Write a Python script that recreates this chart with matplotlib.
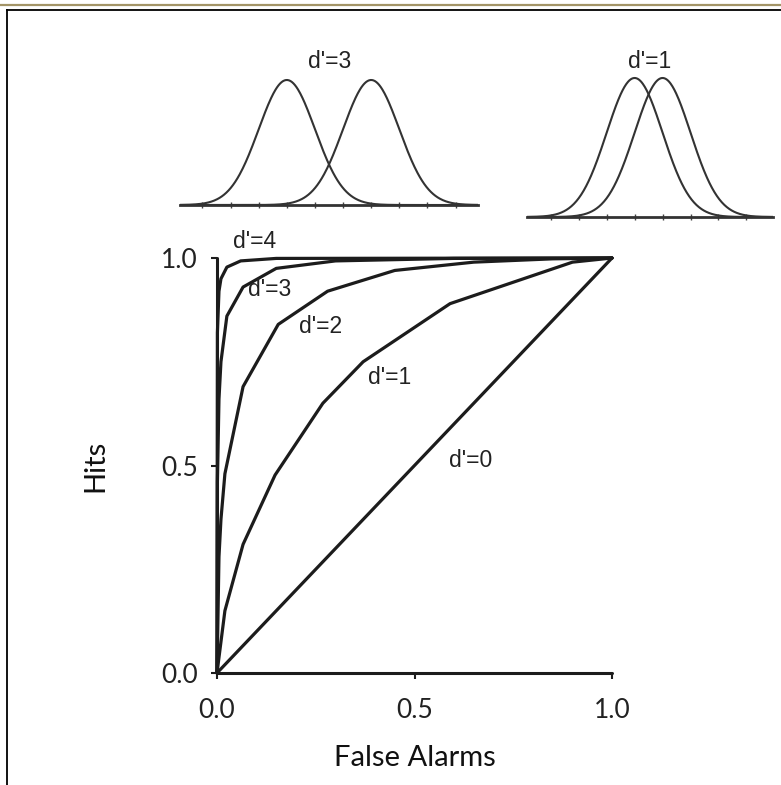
import numpy as np
import matplotlib
matplotlib.use("Agg")
import matplotlib.pyplot as plt
from matplotlib.lines import Line2D

# ROC curves: (false alarm rate, hit rate)
fa_d0 = [0.0, 1.0]
hit_d0 = [0.0, 1.0]

fa_d1 = [0.0, 0.02, 0.066, 0.147, 0.268, 0.37, 0.59, 0.90, 1.0]
hit_d1 = [0.0, 0.15, 0.31, 0.477, 0.65, 0.75, 0.89, 0.99, 1.0]

fa_d2 = [0.0, 0.005, 0.01, 0.02, 0.066, 0.155, 0.28, 0.45, 0.65, 0.85, 1.0]
hit_d2 = [0.0, 0.28, 0.37, 0.48, 0.69, 0.84, 0.92, 0.97, 0.99, 0.998, 1.0]

fa_d3 = [0.0, 0.001, 0.005, 0.01, 0.025, 0.066, 0.15, 0.3, 0.6, 1.0]
hit_d3 = [0.0, 0.46, 0.66, 0.75, 0.86, 0.93, 0.975, 0.993, 0.999, 1.0]

fa_d4 = [0.0, 0.001, 0.005, 0.01, 0.025, 0.06, 0.15, 1.0]
hit_d4 = [0.0, 0.82, 0.92, 0.95, 0.978, 0.993, 0.999, 1.0]

curves = [(fa_d0, hit_d0), (fa_d1, hit_d1), (fa_d2, hit_d2),
          (fa_d3, hit_d3), (fa_d4, hit_d4)]

curve_labels = ["d'=0", "d'=1", "d'=2", "d'=3", "d'=4"]
label_pos = [(0.641, 0.513), (0.438, 0.711), (0.261, 0.836),
             (0.134, 0.923), (0.096, 1.039)]

ticks = [0.0, 0.5, 1.0]
tick_labels = ["0.0", "0.5", "1.0"]

# noise / signal distributions for the two insets
means_d3 = [0.0, 3.0]
means_d1 = [0.0, 1.0]

W, H = 781, 785
fig = plt.figure(figsize=(W / 100, H / 100), dpi=100)
fig.patch.set_facecolor("white")


def px_box(x0, y0, x1, y1):
    # pixel box (top-left origin) -> figure rect
    return [x0 / W, 1 - y1 / H, (x1 - x0) / W, (y1 - y0) / H]


# frame lines
fig.add_artist(Line2D([0, 1], [1 - 4.5 / H, 1 - 4.5 / H], color="#a39467", lw=1.6))
fig.add_artist(Line2D([7 / W, 1], [1 - 9.5 / H, 1 - 9.5 / H], color="black", lw=1.3))
fig.add_artist(Line2D([7 / W, 7 / W], [0, 1 - 9.5 / H], color="black", lw=1.3))

# main ROC plot
ax = fig.add_axes(px_box(217, 258, 612, 673))
for fa, hit in curves:
    ax.plot(fa, hit, color="#1c1c1c", lw=2.3, solid_capstyle="round",
            solid_joinstyle="round", clip_on=False)
ax.set_xlim(0, 1)
ax.set_ylim(0, 1)
for s in ["top", "right"]:
    ax.spines[s].set_visible(False)
for s in ["left", "bottom"]:
    ax.spines[s].set_linewidth(2.2)
    ax.spines[s].set_color("#1c1c1c")
    ax.spines[s].set_capstyle("round")
ax.set_xticks(ticks)
ax.set_yticks(ticks)
ax.set_xticklabels(tick_labels, fontfamily="Lato", fontsize=19, color="#222")
ax.set_yticklabels(tick_labels, fontfamily="Lato", fontsize=19, color="#222")
ax.tick_params(length=4, width=1.5, color="#1c1c1c")
ax.tick_params(axis="x", pad=14)
ax.tick_params(axis="y", pad=10)
ax.set_xlabel("False Alarms", fontfamily="Lato", fontsize=21, color="#111", labelpad=16)
ax.set_ylabel("Hits", fontfamily="Lato", fontsize=21, color="#111", labelpad=38)
ax.patch.set_alpha(0)

for lab, (x, y) in zip(curve_labels, label_pos):
    ax.text(x, y, lab, fontsize=16.5, fontfamily="Liberation Sans", color="#222",
            ha="center", va="center", clip_on=False)


def gauss(x, m):
    return np.exp(-0.5 * (x - m) ** 2) / np.sqrt(2 * np.pi)


# inset d'=3
ax1 = fig.add_axes(px_box(180, 75, 478, 205))
xs = np.linspace(-3.8, 6.8, 400)
for m in means_d3:
    ax1.plot(xs, gauss(xs, m), color="#333", lw=1.5)
ax1.set_xlim(-3.8, 6.8)
ax1.set_ylim(0, 0.3989 * 130 / 125)
ax1.set_xticks(np.arange(-3, 7))

# inset d'=1
ax2 = fig.add_axes(px_box(527, 73, 773, 217))
xs2 = np.linspace(-3.85, 4.95, 400)
for m in means_d1:
    ax2.plot(xs2, gauss(xs2, m), color="#333", lw=1.5)
ax2.set_xlim(-3.85, 4.95)
ax2.set_ylim(0, 0.3989 * 144 / 139)
ax2.set_xticks(np.arange(-3, 5))

for a in (ax1, ax2):
    for s in ["top", "right", "left"]:
        a.spines[s].set_visible(False)
    a.spines["bottom"].set_linewidth(2.0)
    a.spines["bottom"].set_color("#333")
    a.set_yticks([])
    a.tick_params(axis="x", direction="inout", length=5, width=1, color="#444",
                  labelbottom=False)
    a.patch.set_alpha(0)

fig.text(330 / W, 1 - 62 / H, "d'=3", fontsize=16.5, fontfamily="Liberation Sans",
         color="#222", ha="center", va="center")
fig.text(650 / W, 1 - 62 / H, "d'=1", fontsize=16.5, fontfamily="Liberation Sans",
         color="#222", ha="center", va="center")

fig.savefig("out.png", dpi=100)
